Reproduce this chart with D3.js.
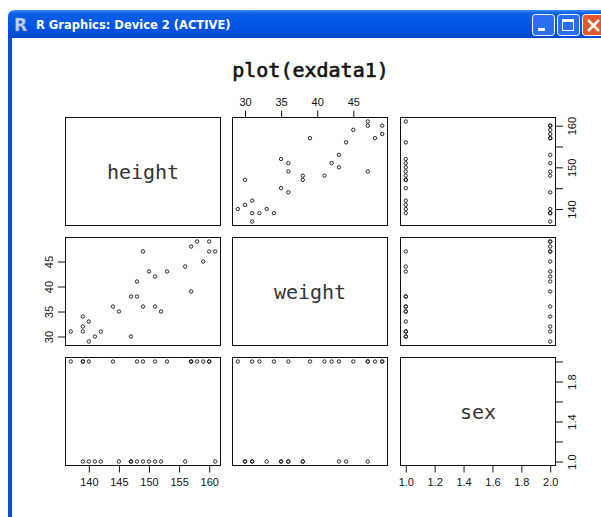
<!DOCTYPE html>
<html>
<head>
<meta charset="utf-8">
<script src="https://cdn.jsdelivr.net/npm/d3@7"></script>
<style>
  body { margin: 0; background: #fff; }
  svg { display: block; }
</style>
</head>
<body>
<div id="chart"></div>
<script>
// exdata1: one row per person
const height = [137, 139, 139, 139, 140, 140, 141, 142, 144, 145, 147, 147, 148, 148, 149,
                149, 150, 151, 151, 152, 153, 156, 157, 157, 158, 159, 160, 160, 161];
const weight = [31, 34, 32, 31, 33, 29, 30, 31, 36, 35, 38, 30, 38, 41, 47,
                36, 43, 42, 36, 35, 43, 44, 48, 39, 49, 45, 49, 47, 47];
const sex    = [2, 2, 2, 1, 1, 2, 1, 1, 2, 1, 1, 1, 1, 2, 2,
                1, 1, 2, 1, 1, 2, 1, 2, 2, 2, 2, 2, 2, 1];

const varNames = ["height", "weight", "sex"];
const heightTicks = [140, 145, 150, 155, 160];
const weightTicks = [30, 35, 40, 45];
const sexTicks = [1.0, 1.2, 1.4, 1.6, 1.8, 2.0];
const heightSideLabels = [140, 150, 160];
const sexSideLabels = [1.0, 1.4, 1.8];

const W = 601, H = 517;
const svg = d3.select("#chart").append("svg")
  .attr("width", W)
  .attr("height", H);

// ---- window chrome (R Graphics device window) ----
const defs = svg.append("defs");
const tb = defs.append("linearGradient").attr("id", "titlebar")
  .attr("x1", 0).attr("y1", 0).attr("x2", 0).attr("y2", 1);
tb.append("stop").attr("offset", "0%").attr("stop-color", "#3d8cf5");
tb.append("stop").attr("offset", "12%").attr("stop-color", "#0a5fe6");
tb.append("stop").attr("offset", "60%").attr("stop-color", "#0055e5");
tb.append("stop").attr("offset", "100%").attr("stop-color", "#0149d0");

svg.append("path")
  .attr("d", "M8,38 L8,17 Q8,10 15,10 L601,10 L601,38 Z")
  .attr("fill", "url(#titlebar)");
svg.append("rect")
  .attr("x", 8).attr("y", 38).attr("width", 4).attr("height", H - 38)
  .attr("fill", "#0a50d8");

svg.append("text")
  .attr("x", 14).attr("y", 31)
  .style("font-family", "DejaVu Sans")
  .style("font-weight", "bold")
  .style("font-size", "17px")
  .attr("fill", "#c8d4f0")
  .attr("stroke", "#6f86c0")
  .attr("stroke-width", 0.6)
  .text("R");

svg.append("text")
  .attr("x", 36).attr("y", 29)
  .style("font-family", "DejaVu Sans")
  .style("font-weight", "bold")
  .style("font-size", "11.5px")
  .attr("fill", "#fff")
  .text("R Graphics: Device 2 (ACTIVE)");

// title bar buttons
const btns = [
  { x: 532, fill: "#2a6ff0", kind: "min" },
  { x: 557, fill: "#2a6ff0", kind: "max" },
  { x: 582, fill: "#e2562c", kind: "close" }
];
btns.forEach(b => {
  svg.append("rect")
    .attr("x", b.x + 0.5).attr("y", 14.5)
    .attr("width", 22).attr("height", 21).attr("rx", 3)
    .attr("fill", b.fill).attr("stroke", "#fff").attr("stroke-width", 1);
  if (b.kind === "min") {
    svg.append("rect").attr("x", b.x + 6).attr("y", 28).attr("width", 7).attr("height", 3).attr("fill", "#fff");
  } else if (b.kind === "max") {
    svg.append("rect").attr("x", b.x + 5.5).attr("y", 19.5).attr("width", 11).attr("height", 11)
      .attr("fill", "none").attr("stroke", "#fff").attr("stroke-width", 1);
    svg.append("rect").attr("x", b.x + 5).attr("y", 19).attr("width", 12).attr("height", 3).attr("fill", "#fff");
  } else {
    svg.append("path")
      .attr("d", `M${b.x + 6},20 L${b.x + 17},31 M${b.x + 17},20 L${b.x + 6},31`)
      .attr("stroke", "#fff").attr("stroke-width", 2.5);
  }
});

// ---- pairs plot ----
const vars = [height, weight, sex];
const colX = [65, 232, 400];
const rowY = [117.5, 237.5, 357.5];
const panelW = 156, panelH = 108;

// R style 4% range extension
function padded(v) {
  const [lo, hi] = d3.extent(v);
  const p = (hi - lo) * 0.04;
  return [lo - p, hi + p];
}

const xs = vars.map((v, j) => d3.scaleLinear().domain(padded(v)).range([colX[j], colX[j] + panelW]));
const ys = vars.map((v, i) => d3.scaleLinear().domain(padded(v)).range([rowY[i] + panelH, rowY[i]]));

svg.append("text")
  .attr("x", 310.5).attr("y", 77)
  .attr("text-anchor", "middle")
  .style("font-family", "DejaVu Sans Mono")
  .style("font-size", "20px")
  .attr("fill", "#111")
  .attr("stroke", "#111")
  .attr("stroke-width", 0.6)
  .text("plot(exdata1)");

for (let i = 0; i < 3; i++) {
  for (let j = 0; j < 3; j++) {
    const g = svg.append("g");
    if (i === j) {
      g.append("text")
        .attr("x", colX[j] + panelW / 2)
        .attr("y", rowY[i] + panelH / 2)
        .attr("dy", "0.35em")
        .attr("text-anchor", "middle")
        .style("font-family", "DejaVu Sans Mono")
        .style("font-size", "20px")
        .attr("fill", "#333")
        .text(varNames[i]);
    } else {
      g.selectAll("circle")
        .data(d3.range(height.length))
        .enter()
        .append("circle")
        .attr("cx", k => xs[j](vars[j][k]))
        .attr("cy", k => ys[i](vars[i][k]))
        .attr("r", 1.7)
        .attr("fill", "none")
        .attr("stroke", "#111")
        .attr("stroke-width", 0.9);
    }
    g.append("rect")
      .attr("x", colX[j] + 0.5).attr("y", rowY[i])
      .attr("width", panelW - 1).attr("height", panelH)
      .attr("fill", "none")
      .attr("stroke", "#111")
      .attr("stroke-width", 1);
  }
}

function styleAxis(g) {
  g.select(".domain").remove();
  g.attr("font-family", "Liberation Sans").attr("font-size", 11);
  g.selectAll(".tick line").attr("stroke", "#111");
  g.selectAll(".tick text").attr("fill", "#111");
}

function rotateLabels(g, offset) {
  g.selectAll(".tick text")
    .attr("x", 0).attr("y", 0)
    .attr("dy", "0.35em")
    .attr("text-anchor", "middle")
    .attr("transform", `translate(${offset},0) rotate(-90)`);
}

const only = list => d => list.some(v => Math.abs(v - d) < 1e-9) ? (Number.isInteger(d) && d > 2 ? d : d3.format(".1f")(d)) : "";

// bottom: height (col 1) and sex (col 3)
svg.append("g")
  .attr("transform", `translate(0,${rowY[2] + panelH})`)
  .call(d3.axisBottom(xs[0]).tickValues(heightTicks).tickSize(7).tickPadding(6).tickFormat(d3.format("d")))
  .call(styleAxis);
svg.append("g")
  .attr("transform", `translate(0,${rowY[2] + panelH})`)
  .call(d3.axisBottom(xs[2]).tickValues(sexTicks).tickSize(7).tickPadding(6).tickFormat(d3.format(".1f")))
  .call(styleAxis);

// top: weight (col 2)
svg.append("g")
  .attr("transform", `translate(0,${rowY[0]})`)
  .call(d3.axisTop(xs[1]).tickValues(weightTicks).tickSize(7).tickPadding(5).tickFormat(d3.format("d")))
  .call(styleAxis);

// left: weight (row 2)
svg.append("g")
  .attr("transform", `translate(${colX[0]},0)`)
  .call(d3.axisLeft(ys[1]).tickValues(weightTicks).tickSize(7).tickFormat(d3.format("d")))
  .call(styleAxis)
  .call(g => rotateLabels(g, -16));

// right: height (row 1) and sex (row 3)
svg.append("g")
  .attr("transform", `translate(${colX[2] + panelW},0)`)
  .call(d3.axisRight(ys[0]).tickValues(heightTicks).tickSize(7).tickFormat(only(heightSideLabels)))
  .call(styleAxis)
  .call(g => rotateLabels(g, 16));
svg.append("g")
  .attr("transform", `translate(${colX[2] + panelW},0)`)
  .call(d3.axisRight(ys[2]).tickValues(sexTicks).tickSize(7).tickFormat(only(sexSideLabels)))
  .call(styleAxis)
  .call(g => rotateLabels(g, 16));
</script>
</body>
</html>
